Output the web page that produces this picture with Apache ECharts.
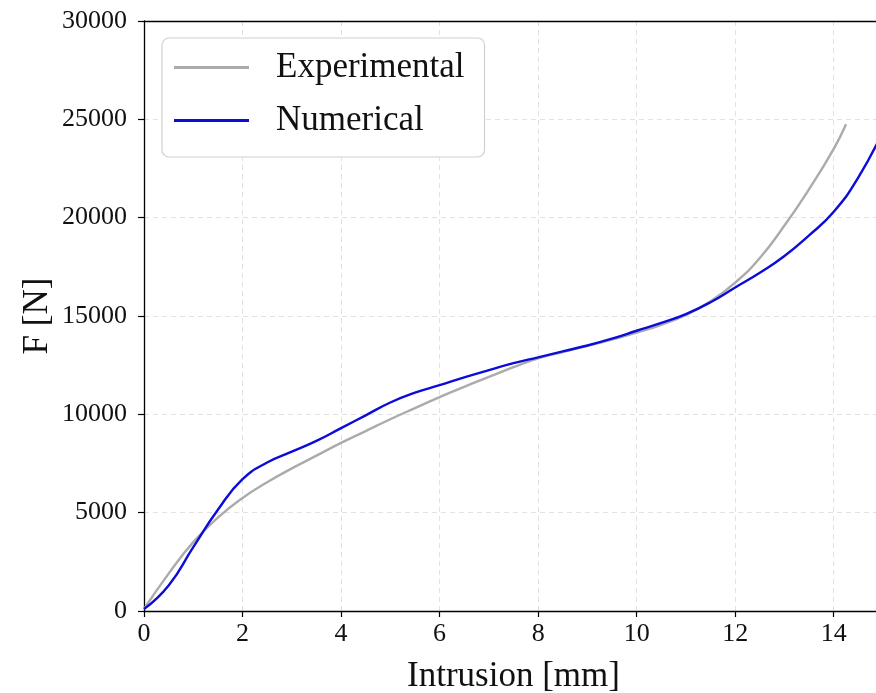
<!DOCTYPE html>
<html>
<head>
<meta charset="utf-8">
<script src="https://cdn.jsdelivr.net/npm/echarts@6/dist/echarts.min.js"></script>
<style>
html,body{margin:0;padding:0;background:#fff;}
#chart{width:876px;height:693px;}
</style>
</head>
<body>
<div id="chart"></div>
<script>
const expX = [0, 0.5, 1, 1.5, 2, 2.5, 3, 3.5, 4, 4.5, 5, 5.5, 6, 6.5, 7, 7.5, 8, 8.5, 9, 9.5, 10, 10.5, 11, 11.5, 12, 12.5, 13, 13.5, 14, 14.25];
const expY = [100, 1900, 3500, 4750, 5750, 6550, 7250, 7900, 8550, 9150, 9750, 10320, 10880, 11400, 11900, 12400, 12850, 13170, 13480, 13800, 14150, 14550, 15050, 15750, 16700, 17950, 19600, 21450, 23500, 24750];
const numX = [0, 0.5, 1, 1.5, 2, 2.5, 3, 3.5, 4, 4.5, 5, 5.5, 6, 6.5, 7, 7.5, 8, 8.5, 9, 9.5, 10, 10.5, 11, 11.5, 12, 12.5, 13, 13.5, 14, 14.5, 15];
const numY = [100, 1300, 3250, 5150, 6700, 7550, 8100, 8650, 9300, 9950, 10600, 11100, 11480, 11880, 12250, 12600, 12900, 13200, 13500, 13850, 14250, 14650, 15100, 15700, 16450, 17200, 18050, 19100, 20300, 22050, 24400];
const xTicks = [0, 2, 4, 6, 8, 10, 12, 14];
const yTicks = [0, 5000, 10000, 15000, 20000, 25000, 30000];
const seriesNames = ['Experimental', 'Numerical'];

const font = 'Liberation Serif';
const chart = echarts.init(document.getElementById('chart'), null, {renderer: 'canvas'});
const pair = (xs, ys) => xs.map((x, i) => [x, ys[i]]);
const gridLine = {show: true, lineStyle: {color: '#e2e2e2', type: [5, 4], width: 1}};
chart.setOption({
  animation: false,
  backgroundColor: '#fff',
  grid: {left: 144, top: 21, right: -7, bottom: 82, outerBoundsMode: 'none', containLabel: false,
    show: false},
  legend: {
    left: 162, top: 38, orient: 'vertical',
    icon: 'rect', itemWidth: 75, itemHeight: 3, itemGap: 18,
    padding: [12, 20, 19, 12],
    backgroundColor: '#fff', borderColor: '#d0d0d0', borderWidth: 1.2, borderRadius: 7,
    textStyle: {fontFamily: font, fontSize: 35, color: '#111', lineHeight: 34, padding: [0, 0, 0, 22]},
    data: seriesNames
  },
  xAxis: [{
    type: 'value', min: 0, max: 15, interval: 2,
    name: 'Intrusion [mm]', nameLocation: 'middle', nameGap: 48, nameMoveOverlap: false,
    nameTextStyle: {fontFamily: font, fontSize: 35, color: '#111'},
    axisLine: {show: true, lineStyle: {color: '#000', width: 1.3}},
    axisTick: {show: true, length: 6, lineStyle: {color: '#000', width: 1.2}},
    axisLabel: {fontFamily: font, fontSize: 26, color: '#111', margin: 10,
      formatter: v => xTicks.includes(v) ? String(v) : ''},
    splitLine: gridLine
  }, {
    type: 'value', position: 'top', min: 0, max: 15, interval: 2, z: 10,
    axisLine: {show: true, onZero: false, lineStyle: {color: '#000', width: 1.3}},
    axisTick: {show: false}, axisLabel: {show: false}, splitLine: {show: false}
  }],
  yAxis: {
    type: 'value', min: 0, max: 30000, interval: 5000,
    name: 'F [N]', nameLocation: 'middle', nameGap: 89, nameRotate: 90, nameMoveOverlap: false,
    nameTextStyle: {fontFamily: font, fontSize: 35, color: '#111'},
    axisLine: {show: true, lineStyle: {color: '#000', width: 1.3}},
    axisTick: {show: true, length: 6, lineStyle: {color: '#000', width: 1.2}},
    axisLabel: {fontFamily: font, fontSize: 26, color: '#111', margin: 17,
      formatter: v => yTicks.includes(v) ? String(v) : ''},
    splitLine: gridLine
  },
  series: [
    {name: seriesNames[0], type: 'line', data: pair(expX, expY), smooth: true, symbol: 'none',
      lineStyle: {color: '#ababab', width: 2.4}, itemStyle: {color: '#ababab'}, z: 2},
    {name: seriesNames[1], type: 'line', data: pair(numX, numY), smooth: true, symbol: 'none',
      lineStyle: {color: '#0c0cd8', width: 2.4}, itemStyle: {color: '#0c0cd8'}, z: 3}
  ]
});
</script>
</body>
</html>
